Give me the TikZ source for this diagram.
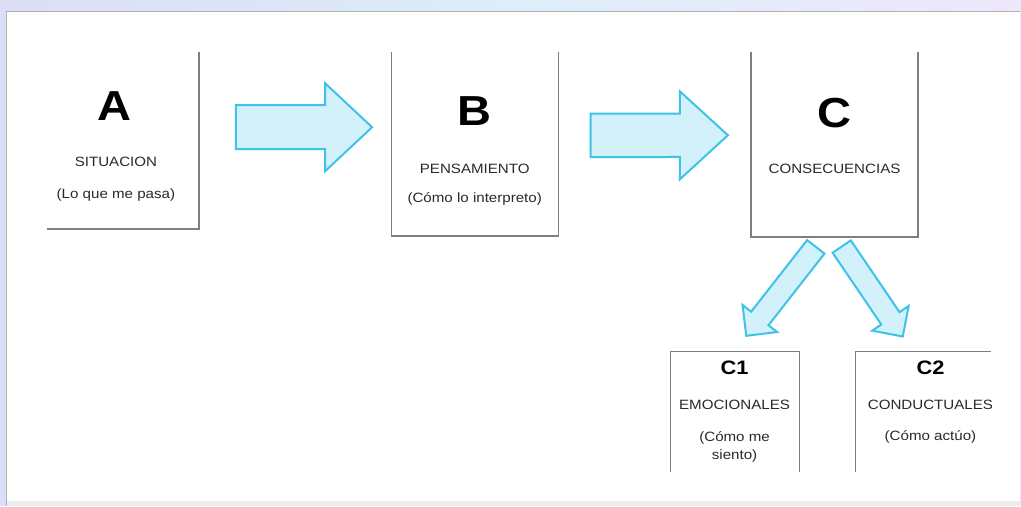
\documentclass[tikz,border=0pt]{standalone}
\usepackage{fontspec}
\setmainfont[FakeStretch=1.12]{Liberation Sans}
\usetikzlibrary{calc}
\definecolor{frameA}{HTML}{DCDDF7}
\definecolor{frameB}{HTML}{DCEEF9}
\definecolor{frameC}{HTML}{EEE6FA}
\definecolor{edgegray}{HTML}{7F7F7F}
\definecolor{arrowfill}{HTML}{D3F1FA}
\definecolor{arrowline}{HTML}{3EC3E8}
\definecolor{txt}{HTML}{2A2A2A}
\tikzset{
  edge/.style={draw=edgegray, line width=1.3pt},
  holder/.style={rectangle, inner sep=0pt, outer sep=0pt},
  big/.style={font=\fontsize{42}{42}\selectfont\bfseries, text=black, inner sep=0pt},
  mid/.style={font=\fontsize{19.5}{19.5}\selectfont\bfseries, text=black, inner sep=0pt},
  small/.style={font=\fontsize{13.5}{13.5}\selectfont, text=txt, inner sep=0pt, align=center},
  barrow/.style={draw=arrowline, fill=arrowfill, line width=2pt, line join=miter},
}
\newcommand\blockarrow[6]{%
  \coordinate (#6-b) at ($(#2)!#5!(#1)$);
  \draw[barrow] ($(#1)!#3!90:(#2)$) -- ($(#6-b)!#3!-90:(#1)$) -- ($(#6-b)!#4!-90:(#1)$) -- (#2)
     -- ($(#6-b)!#4!90:(#1)$) -- ($(#6-b)!#3!90:(#1)$) -- ($(#1)!#3!-90:(#2)$) -- cycle;}
\begin{document}
\begin{tikzpicture}[x=1pt,y=-1pt]
% frame / background
\shade[left color=frameA, right color=frameC, middle color=frameB, shading angle=90] (0,0) rectangle (1021,506);
\fill[frameA] (0,0) rectangle (6,506);
\fill[white] (6,11) rectangle (1021,501);
\fill[black!7] (6,501) rectangle (1021,506);
\draw[black!30, line width=1.2pt] (6.5,506) -- (6.5,11.5) -- (1021,11.5);
\useasboundingbox (0,0) rectangle (1021,506);

% boxes (placeholders, partial borders)
\node[holder, minimum width=152pt, minimum height=177pt] (A) at (123,140.5) {};
\node[holder, minimum width=167pt, minimum height=184pt] (B) at (475,144) {};
\node[holder, minimum width=167pt, minimum height=185pt] (C) at (835,144.5) {};
\node[holder, minimum width=129pt, minimum height=120pt] (C1) at (735.5,412) {};
\node[holder, minimum width=136pt, minimum height=120pt] (C2) at (924,412) {};

\draw[edge] (A.north east) -- (A.south east) -- (A.south west);
\draw[edge] (B.north west) -- (B.south west) -- (B.south east) -- (B.north east);
\draw[edge] (C.north west) -- (C.south west) -- (C.south east) -- (C.north east);
\draw[edge] (C1.south west) -- (C1.north west) -- (C1.north east) -- (C1.south east);
\draw[edge] (C2.south west) -- (C2.north west) -- (C2.north east);

% texts
\node[big] (At) at (115,106) {A};
\node[small] (A1) at (116,162) {SITUACION};
\node[small] (A2) at (116,195) {(Lo que me pasa)};
\node[big] (Bt) at (475,111) {B};
\node[small] (B1) at (475,168.5) {PENSAMIENTO};
\node[small] (B2) at (475,199) {(Cómo lo interpreto)};
\node[big] (Ct) at (835,113) {C};
\node[small] (C0) at (835,168.5) {CONSECUENCIAS};
\node[mid] (C1t) at (735,368) {C1};
\node[small] (C11) at (735,405) {EMOCIONALES};
\node[small, text depth=0pt] (C12) at (735,446) {(Cómo me\\[4pt]siento)};
\node[mid] (C2t) at (931,368) {C2};
\node[small] (C21) at (931,405) {CONDUCTUALES};
\node[small] (C22) at (931,437) {(Cómo actúo)};

% block arrows
\coordinate (a1t) at (236,127.3);
\coordinate (a1p) at (372.3,127.3);
\blockarrow{a1t}{a1p}{22pt}{44pt}{47pt}{a1}
\coordinate (a2t) at (591,135.5);
\coordinate (a2p) at (728.3,135.3);
\blockarrow{a2t}{a2p}{21.7pt}{44pt}{48pt}{a2}
\coordinate (a3t) at (816.3,247);
\coordinate (a3p) at (746.7,336);
\blockarrow{a3t}{a3p}{11pt}{22pt}{22pt}{a3}
\coordinate (a4t) at (842.2,246.7);
\coordinate (a4p) at (903.3,336.7);
\blockarrow{a4t}{a4p}{11pt}{22pt}{22pt}{a4}
\end{tikzpicture}
\end{document}
